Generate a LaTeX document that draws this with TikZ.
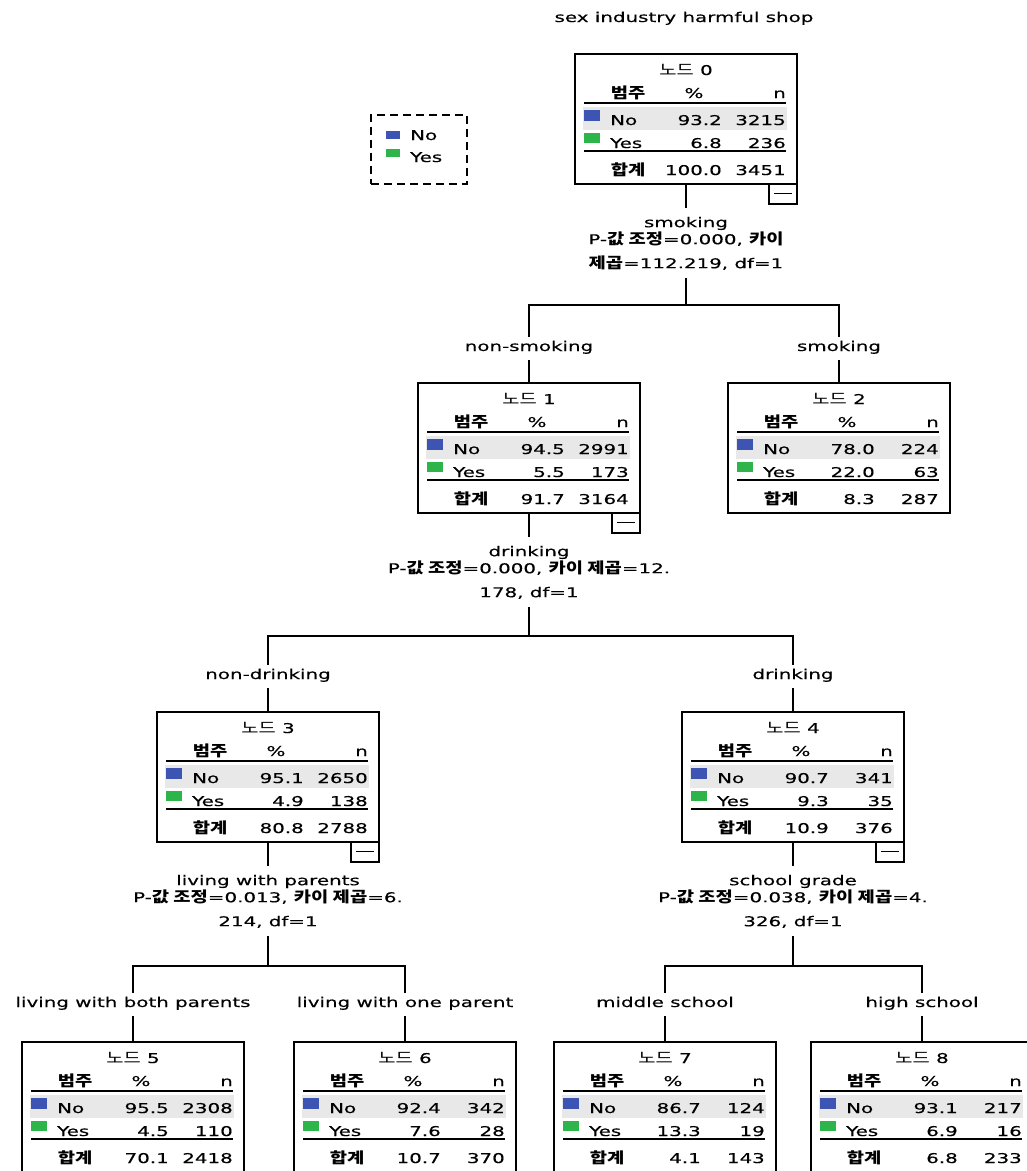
\documentclass[tikz,border=0pt]{standalone}
\usepackage{fontspec}
\setmainfont{DejaVu Sans}[FakeStretch=1.47, FakeBold=0.3]
\newfontfamily\krfont{Noto Sans CJK KR}[FakeStretch=1.25]
\newcommand{\K}[1]{{\krfont\fontsize{15}{17}\selectfont #1}}
\newcommand{\KB}[1]{{\krfont\bfseries\fontsize{15}{17}\selectfont #1}}
\definecolor{cblue}{RGB}{62,84,178}
\definecolor{cgreen}{RGB}{45,180,75}
\definecolor{rowshade}{RGB}{232,232,232}
\tikzset{
  txt/.style={inner sep=0pt, font=\fontsize{13.5}{17}\selectfont},
  treebox/.style={draw, line width=1.9pt, minimum width=222pt, minimum height=130pt, anchor=north west, inner sep=0pt, outer sep=0pt},
  rulel/.style={line width=1.6pt},
  conn/.style={line width=1.9pt},
  minusbox/.style={draw, line width=1.9pt, minimum width=28pt, minimum height=20pt, anchor=north east, inner sep=0pt, outer sep=0pt,
    path picture={\draw[line width=1.1pt] ([xshift=-9pt,yshift=0.5pt]path picture bounding box.center) -- ([xshift=9pt,yshift=0.5pt]path picture bounding box.center);}},
  split/.style={txt, align=center, anchor=north},
  branch/.style={txt, text height=10pt, text depth=5pt, inner xsep=0pt, inner ysep=4pt, anchor=base},
  legendbox/.style={draw, line width=1.6pt, dash pattern=on 8pt off 5pt, minimum width=96pt, minimum height=69pt, anchor=north west, inner sep=0pt},
  pics/tnode/.style args={#1/#2/#3/#4/#5/#6/#7}{code={
    \fill[rowshade] (8,53) rectangle (212,76);
    \node[treebox] (-box) at (0,0) {};
    \node[txt, anchor=base] (-title) at (111,21) {\K{노드} #1};
    \node[txt, anchor=base] (-hcat) at (53,44) {\KB{범주}};
    \node[txt, anchor=base] (-hpct) at (119,44) {\%};
    \node[txt, anchor=base east] (-hn) at (211,44) {n};
    \draw[rulel] (9,49) -- (211,49);
    \fill[cblue] (9,56) rectangle (25,67);
    \node[txt, anchor=base west] (-nol) at (35,71) {No};
    \node[txt, anchor=base east] (-nop) at (147,71) {#2};
    \node[txt, anchor=base east] (-non) at (211,71) {#3};
    \fill[cgreen] (9,79) rectangle (25,89);
    \node[txt, anchor=base west] (-yesl) at (35,94) {Yes};
    \node[txt, anchor=base east] (-yesp) at (147,94) {#4};
    \node[txt, anchor=base east] (-yesn) at (211,94) {#5};
    \draw[rulel] (9,97) -- (211,97);
    \node[txt, anchor=base] (-totl) at (53,121) {\KB{합계}};
    \node[txt, anchor=base east] (-totp) at (147,121) {#6};
    \node[txt, anchor=base east] (-totn) at (211,121) {#7};
  }},
}
\begin{document}
\begin{tikzpicture}[x=1pt, y=-1pt]
\useasboundingbox (0,0) rectangle (1027,1171);
\clip (0,0) rectangle (1027,1171);

% title
\node[txt, anchor=base] (title) at (684,22) {sex industry harmful shop};

% legend
\node[legendbox] (legend) at (370,114) {};
\fill[cblue] (386,131) rectangle (400,139);
\node[txt, anchor=base west] (legno) at (410,140) {No};
\fill[cgreen] (386,149) rectangle (400,157);
\node[txt, anchor=base west] (legyes) at (410,162) {Yes};

% tree nodes
\pic (n0) at (575,54) {tnode={0/93.2/3215/6.8/236/100.0/3451}};
\pic (n1) at (418,383) {tnode={1/94.5/2991/5.5/173/91.7/3164}};
\pic (n2) at (728,383) {tnode={2/78.0/224/22.0/63/8.3/287}};
\pic (n3) at (157,712) {tnode={3/95.1/2650/4.9/138/80.8/2788}};
\pic (n4) at (682,712) {tnode={4/90.7/341/9.3/35/10.9/376}};
\pic (n5) at (22,1042) {tnode={5/95.5/2308/4.5/110/70.1/2418}};
\pic (n6) at (294,1042) {tnode={6/92.4/342/7.6/28/10.7/370}};
\pic (n7) at (554,1042) {tnode={7/86.7/124/13.3/19/4.1/143}};
\pic (n8) at (811,1042) {tnode={8/93.1/217/6.9/16/6.8/233}};

% minus boxes
\node[minusbox] (m0) at (n0-box.south east) {};
\node[minusbox] (m1) at (n1-box.south east) {};
\node[minusbox] (m3) at (n3-box.south east) {};
\node[minusbox] (m4) at (n4-box.south east) {};

% split labels
\node[split] (s0) at (686,208) {\rule{0pt}{19pt}smoking\\ P-\KB{값 조정}=0.000, \KB{카이}\\[7pt] \KB{제곱}=112.219, df=1\rule[-10pt]{0pt}{10pt}};
\node[split] (s1) at (529,537) {\rule{0pt}{19pt}drinking\\ P-\KB{값 조정}=0.000, \KB{카이 제곱}=12.\\[7pt] 178, df=1\rule[-10pt]{0pt}{10pt}};
\node[split] (s3) at (268,866) {\rule{0pt}{19pt}living with parents\\ P-\KB{값 조정}=0.013, \KB{카이 제곱}=6.\\[7pt] 214, df=1\rule[-10pt]{0pt}{10pt}};
\node[split] (s4) at (793,866) {\rule{0pt}{19pt}school grade\\ P-\KB{값 조정}=0.038, \KB{카이 제곱}=4.\\[7pt] 326, df=1\rule[-10pt]{0pt}{10pt}};

% junctions
\coordinate (j0) at (686,305);
\coordinate (j1) at (529,636);
\coordinate (j3) at (268,966);
\coordinate (j4) at (793,966);

% branch labels
\node[branch] (b1) at (529,351) {non-smoking};
\node[branch] (b2) at (839,351) {smoking};
\node[branch] (b3) at (268,679) {non-drinking};
\node[branch] (b4) at (793,679) {drinking};
\node[branch] (b5) at (133,1007) {living with both parents};
\node[branch] (b6) at (405,1007) {living with one parent};
\node[branch] (b7) at (665,1007) {middle school};
\node[branch] (b8) at (922,1007) {high school};

% connectors
\draw[conn] (n0-box.south) -- (s0.north);
\draw[conn] (s0.south) -- (j0);
\draw[conn] (j0) -| (b1);
\draw[conn] (j0) -| (b2);
\draw[conn] (b1) -- (n1-box.north);
\draw[conn] (b2) -- (n2-box.north);

\draw[conn] (n1-box.south) -- (s1.north);
\draw[conn] (s1.south) -- (j1);
\draw[conn] (j1) -| (b3);
\draw[conn] (j1) -| (b4);
\draw[conn] (b3) -- (n3-box.north);
\draw[conn] (b4) -- (n4-box.north);

\draw[conn] (n3-box.south) -- (s3.north);
\draw[conn] (s3.south) -- (j3);
\draw[conn] (j3) -| (b5);
\draw[conn] (j3) -| (b6);
\draw[conn] (b5) -- (n5-box.north);
\draw[conn] (b6) -- (n6-box.north);

\draw[conn] (n4-box.south) -- (s4.north);
\draw[conn] (s4.south) -- (j4);
\draw[conn] (j4) -| (b7);
\draw[conn] (j4) -| (b8);
\draw[conn] (b7) -- (n7-box.north);
\draw[conn] (b8) -- (n8-box.north);
\end{tikzpicture}
\end{document}
